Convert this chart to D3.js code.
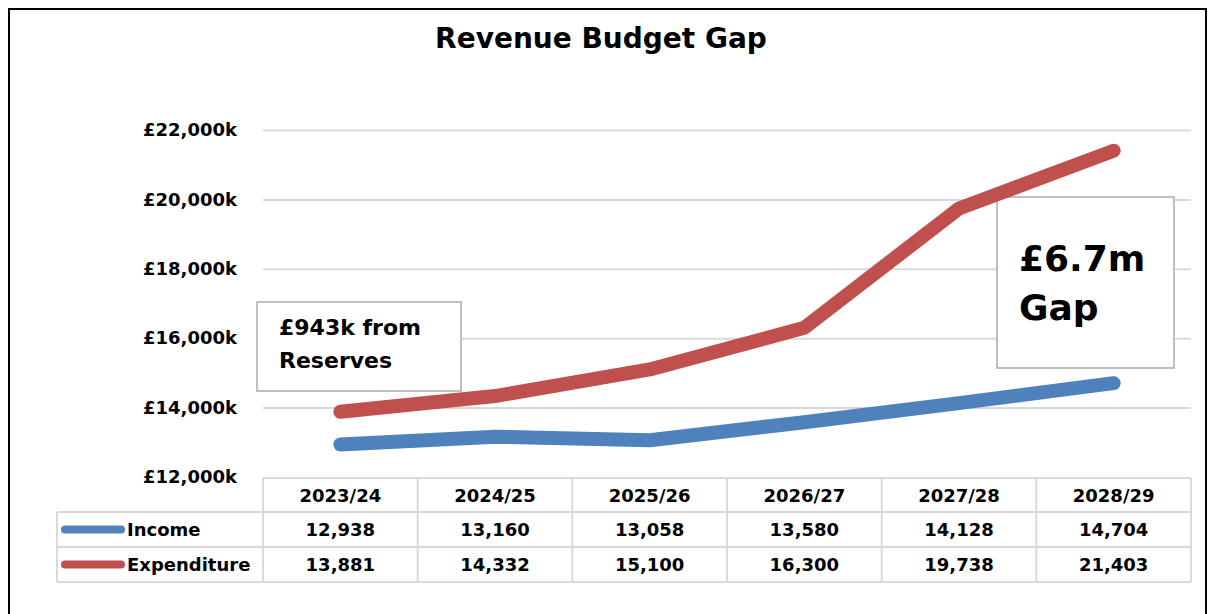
<!DOCTYPE html>
<html>
<head>
<meta charset="utf-8">
<script src="https://cdn.jsdelivr.net/npm/d3@7"></script>
<style>
  html, body { margin: 0; padding: 0; background: #fff; }
  svg { display: block; }
</style>
</head>
<body>
<svg id="chart" width="1208" height="614"></svg>
<script>
/* Revenue Budget Gap: two thick lines over a data table, Excel style. */
const years = ['2023/24', '2024/25', '2025/26', '2026/27', '2027/28', '2028/29'];
const income = [12938, 13160, 13058, 13580, 14128, 14704];
const expenditure = [13881, 14332, 15100, 16300, 19738, 21403];
const yTicks = [12000, 14000, 16000, 18000, 20000, 22000];
const seriesNames = ['Income', 'Expenditure'];
const seriesColors = ['#4F81BD', '#C0504D'];
const noteLeft = ['£943k from', 'Reserves'];
const noteRight = ['£6.7m', 'Gap'];

const svg = d3.select('#chart');
const FONT = '"DejaVu Sans", Verdana, sans-serif';

// outer chart frame (bottom edge runs off the page)
svg.append('rect')
  .attr('x', 9).attr('y', 9).attr('width', 1197).attr('height', 640)
  .attr('fill', '#fff').attr('stroke', '#000').attr('stroke-width', 2);

svg.append('text')
  .attr('x', 601).attr('y', 48)
  .attr('text-anchor', 'middle')
  .style('font-family', FONT).style('font-weight', 700).style('font-size', '28px')
  .text('Revenue Budget Gap');

const x = d3.scaleBand().domain(years).range([263, 1191]);
const y = d3.scaleLinear().domain([12000, 22000]).range([477, 130]);

// gridlines + tick labels via axis
const yAxis = svg.append('g')
  .attr('transform', 'translate(263,0)')
  .call(d3.axisLeft(y).tickValues(yTicks).tickSize(-(1191 - 263)).tickPadding(26)
    .tickFormat(d => '£' + d3.format(',')(d) + 'k'));
yAxis.select('.domain').remove();
yAxis.selectAll('.tick line')
  .attr('stroke', '#d9d9d9').attr('stroke-width', 2)
  .attr('display', d => d === 12000 ? 'none' : null);
yAxis.selectAll('.tick text')
  .attr('fill', '#000')
  .style('font-family', FONT).style('font-weight', 700).style('font-size', '18px');

// annotation boxes
function noteBox(x0, y0, w, h, lines, tx, ty, lh, size){
  svg.append('rect')
    .attr('x', x0).attr('y', y0).attr('width', w).attr('height', h)
    .attr('fill', '#fff').attr('stroke', '#bfbfbf').attr('stroke-width', 2);
  svg.append('text')
    .style('font-family', FONT).style('font-weight', 700).style('font-size', size)
    .selectAll('tspan').data(lines).join('tspan')
    .attr('x', tx).attr('y', (d, i) => ty + i * lh)
    .text(d => d);
}
noteBox(257, 302, 204, 89, noteLeft, 279, 335, 33, '22px');
noteBox(997, 197, 177, 171, noteRight, 1019, 271, 49, '36px');

// series lines
const line = d3.line()
  .x((d, i) => x(years[i]) + x.bandwidth() / 2)
  .y(d => y(d));
[income, expenditure].forEach((vals, k) => {
  svg.append('path')
    .datum(vals)
    .attr('d', line)
    .attr('fill', 'none')
    .attr('stroke', seriesColors[k])
    .attr('stroke-width', 14)
    .attr('stroke-linecap', 'round')
    .attr('stroke-linejoin', 'round');
});

// data table
const rowTop = [478, 512, 547, 582];
const tableLeft = 57;
const g = svg.append('g').attr('stroke', '#d9d9d9').attr('stroke-width', 2).attr('fill', 'none');
g.append('line').attr('x1', 263).attr('x2', 1191).attr('y1', rowTop[0]).attr('y2', rowTop[0]);
rowTop.slice(1).forEach(ry => g.append('line').attr('x1', tableLeft).attr('x2', 1191).attr('y1', ry).attr('y2', ry));
g.append('line').attr('x1', tableLeft).attr('x2', tableLeft).attr('y1', rowTop[1]).attr('y2', rowTop[3]);
years.forEach(c => g.append('line').attr('x1', x(c)).attr('x2', x(c)).attr('y1', rowTop[0]).attr('y2', rowTop[3]));
g.append('line').attr('x1', 1191).attr('x2', 1191).attr('y1', rowTop[0]).attr('y2', rowTop[3]);

const cellText = svg.append('g')
  .style('font-family', FONT).style('font-weight', 700).style('font-size', '18px')
  .attr('text-anchor', 'middle');
cellText.selectAll('.hdr').data(years).join('text')
  .attr('x', d => x(d) + x.bandwidth() / 2).attr('y', 502).text(d => d);
[income, expenditure].forEach((vals, k) => {
  cellText.selectAll('.r' + k).data(vals).join('text')
    .attr('x', (d, i) => x(years[i]) + x.bandwidth() / 2)
    .attr('y', rowTop[k + 1] + 24)
    .text(d => d3.format(',')(d));
});

// legend keys in first column
seriesNames.forEach((name, k) => {
  const cy = (rowTop[k + 1] + rowTop[k + 2]) / 2;
  svg.append('line')
    .attr('x1', 65).attr('x2', 121).attr('y1', cy).attr('y2', cy)
    .attr('stroke', seriesColors[k]).attr('stroke-width', 8).attr('stroke-linecap', 'round');
  svg.append('text')
    .attr('x', 127).attr('y', rowTop[k + 1] + 24)
    .style('font-family', FONT).style('font-weight', 700).style('font-size', '18px')
    .text(name);
});
</script>
</body>
</html>
